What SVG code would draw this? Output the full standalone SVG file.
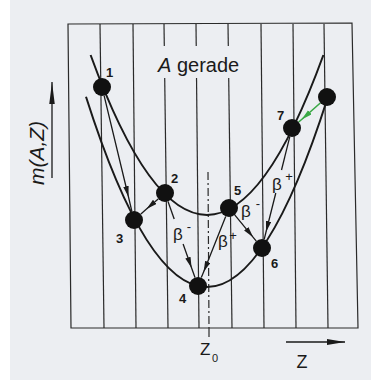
<svg xmlns="http://www.w3.org/2000/svg" width="371" height="380" viewBox="0 0 371 380">
<defs>
<style>
.grid{stroke:#2a2a2a;stroke-width:1.2;fill:none}
.curve{stroke:#1a1a1a;stroke-width:2;fill:none}
.arr{stroke:#1a1a1a;stroke-width:1.3;fill:none}
.node{fill:#111}
.num{font-family:"Liberation Sans",Arial,sans-serif;font-size:13px;font-weight:bold;fill:#1a1a1a}
.beta{font-family:"Liberation Sans",Arial,sans-serif;font-size:17px;fill:#1a1a1a}
.sup{font-family:"Liberation Sans",Arial,sans-serif;font-size:13px;fill:#1a1a1a}
.lbl{font-family:"Liberation Sans",Arial,sans-serif;fill:#1a1a1a}
</style>
<marker id="ah" markerUnits="userSpaceOnUse" markerWidth="12" markerHeight="6" refX="11" refY="2.75" orient="auto">
<path d="M0,0 L11,2.75 L0,5.5 z" fill="#1a1a1a"/>
</marker>
<marker id="ahg" markerUnits="userSpaceOnUse" markerWidth="12" markerHeight="6" refX="11" refY="2.75" orient="auto">
<path d="M0,0 L11,2.75 L0,5.5 z" fill="#3aa845"/>
</marker>
<marker id="ahv" markerUnits="userSpaceOnUse" markerWidth="24" markerHeight="6" refX="22" refY="2.75" orient="auto">
<path d="M0,0 L22,2.75 L0,5.5 z" fill="#1a1a1a"/>
</marker>
<marker id="ahz" markerUnits="userSpaceOnUse" markerWidth="20" markerHeight="6" refX="18" refY="3" orient="auto">
<path d="M0,0 L18,3 L0,6 z" fill="#1a1a1a"/>
</marker>
</defs>
<rect x="0" y="0" width="371" height="380" fill="#eceef2"/>
<rect x="0" y="0" width="10" height="380" fill="#ffffff"/>

<g id="frame">
<path class="grid" d="M68,24 L352,23 L358,328 L71,328 Z"/>
<line class="grid" x1="100" y1="24" x2="104" y2="328"/>
<line class="grid" x1="133" y1="24" x2="136" y2="328"/>
<line class="grid" x1="164" y1="24" x2="168" y2="328"/>
<line class="grid" x1="196" y1="24" x2="199" y2="328"/>
<line class="grid" x1="228" y1="24" x2="232" y2="328"/>
<line class="grid" x1="261" y1="24" x2="264" y2="328"/>
<line class="grid" x1="293" y1="24" x2="296" y2="328"/>
<line class="grid" x1="324" y1="24" x2="328" y2="328"/>
<rect x="154" y="46" width="92" height="32" fill="#eceef2"/>
<text class="lbl" x="158" y="72" font-size="20"><tspan font-style="italic">A</tspan> gerade</text>
</g>

<g id="axes">
<line x1="52" y1="178" x2="52" y2="82" stroke="#1a1a1a" stroke-width="1.3" marker-end="url(#ahv)"/>
<text class="lbl" font-size="21" font-style="italic" text-anchor="middle" transform="translate(44,153) rotate(-90)">m(A,Z)</text>
<line x1="208" y1="172" x2="209" y2="328" stroke="#2a2a2a" stroke-width="1.2" stroke-dasharray="8,3,2,3"/>
<line x1="209" y1="328" x2="209" y2="337" stroke="#2a2a2a" stroke-width="1.2"/>
<text class="lbl" x="200" y="355" font-size="17">Z</text>
<text class="lbl" x="212" y="362" font-size="11">0</text>
<line x1="286" y1="342" x2="345" y2="342" stroke="#1a1a1a" stroke-width="1.3" marker-end="url(#ahz)"/>
<text class="lbl" x="302" y="368" font-size="18" text-anchor="middle">Z</text>
</g>

<g id="curves">
<path class="curve" d="M90.6,55 Q207,374.8 323.4,55"/>
<path class="curve" d="M86,96.7 Q206.75,476.6 327.5,98.2"/>
</g>

<g id="connectors">
<path class="arr" d="M104.1,95.7 L128.5,197 L131.9,211.3" marker-mid="url(#ah)"/>
<path class="arr" d="M158.2,198.9 L146.5,209.1 L140.9,214" marker-mid="url(#ah)"/>
<path class="arr" d="M168,201.5 L174.2,219"/>
<path class="arr" d="M183.1,244 L191.6,268 L195,277.5" marker-mid="url(#ah)"/>
<path class="arr" d="M225.7,216.4 L203.6,272 L201.3,277.6" marker-mid="url(#ah)"/>
<path class="arr" d="M234.7,214.9 L253.2,237.3 L256.3,241.1" marker-mid="url(#ah)"/>
<path class="arr" d="M289.8,136.7 L281.5,170"/>
<path class="arr" d="M275.8,193 L266,232 L264.2,239.3" marker-mid="url(#ah)"/>
<path d="M320.3,103 L301.6,119.5 L298.7,122" stroke="#3aa845" stroke-width="1.6" fill="none" marker-mid="url(#ahg)"/>
<text class="beta" x="178" y="240" text-anchor="middle">β</text>
<text class="sup" x="189" y="231" text-anchor="middle">-</text>
<text class="beta" x="223" y="247" text-anchor="middle">β</text>
<text class="sup" x="233" y="240" text-anchor="middle">+</text>
<text class="beta" x="246" y="217" text-anchor="middle">β</text>
<text class="sup" x="258" y="208" text-anchor="middle">-</text>
<text class="beta" x="277" y="190" text-anchor="middle">β</text>
<text class="sup" x="289" y="181" text-anchor="middle">+</text>
</g>

<g id="n1"><circle class="node" cx="102" cy="87" r="9"/><text class="num" x="106" y="77">1</text></g>
<g id="n2"><circle class="node" cx="165" cy="193" r="9"/><text class="num" x="171" y="183">2</text></g>
<g id="n3"><circle class="node" cx="134" cy="220" r="9"/><text class="num" x="116" y="243">3</text></g>
<g id="n4"><circle class="node" cx="198" cy="286" r="9"/><text class="num" x="179" y="303">4</text></g>
<g id="n5"><circle class="node" cx="229" cy="208" r="9"/><text class="num" x="234" y="195">5</text></g>
<g id="n6"><circle class="node" cx="262" cy="248" r="9"/><text class="num" x="271" y="268">6</text></g>
<g id="n7"><circle class="node" cx="292" cy="128" r="9"/><text class="num" x="277" y="120">7</text></g>
<g id="n8"><circle class="node" cx="327" cy="97" r="9"/></g>
</svg>
